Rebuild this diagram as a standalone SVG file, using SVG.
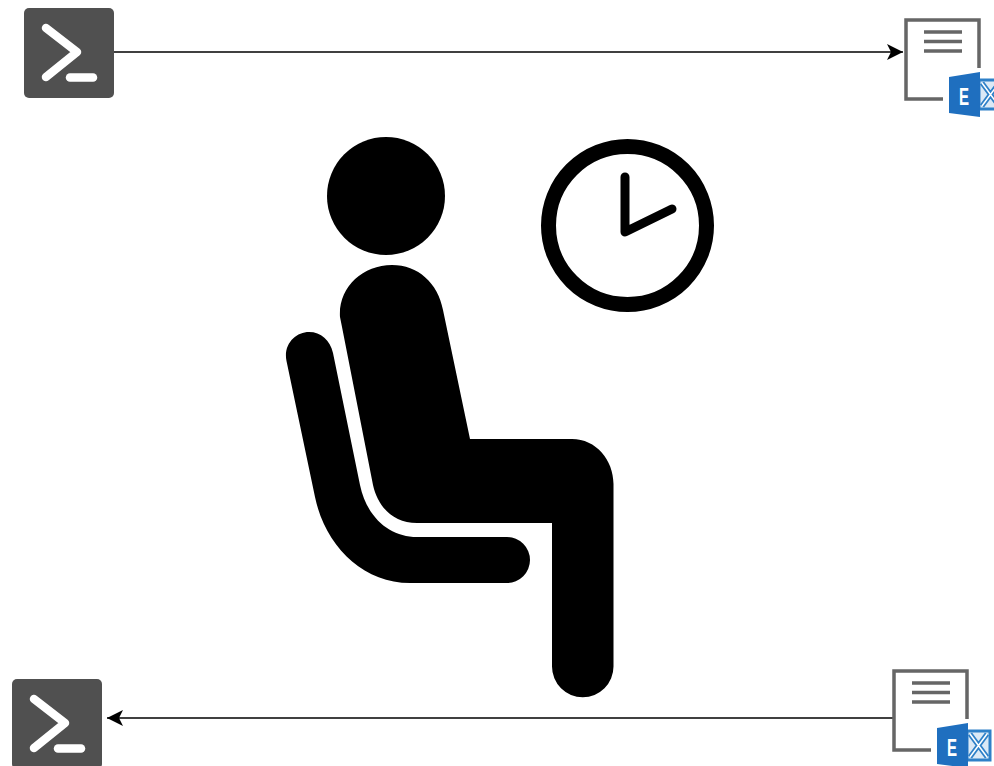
<svg xmlns="http://www.w3.org/2000/svg" width="994" height="766" viewBox="0 0 994 766">
<style>
.term{fill:#505050}
.cmd{fill:none;stroke:#fff;stroke-width:8.500;stroke-linecap:round;stroke-linejoin:round}
.doc{fill:none;stroke:#666;stroke-width:3.500}
.door{fill:#1f6fbf}
.box{fill:#dbe9f6;stroke:#2e80c8;stroke-width:3}
.x{fill:none;stroke:#2e80c8;stroke-width:5}
.xi{fill:none;stroke:#fff;stroke-width:1.500}
.e{font-family:"Liberation Sans",Arial,sans-serif;font-weight:700;font-size:23px;fill:#fff;text-anchor:middle}
.conn{fill:none;stroke:#000;stroke-width:1.300}
</style>
<defs>
<marker id="arrow" markerUnits="userSpaceOnUse" markerWidth="20" markerHeight="20" refX="17" refY="10" orient="auto">
<path d="M1 2L17 10L1 18L5 10Z" fill="#000"/>
</marker>
<g id="terminal-art">
<rect class="term" width="90" height="90" rx="5"/>
<path class="cmd" d="M22 20L53 44L22 69"/>
<path class="cmd" d="M46 69.500H69"/>
</g>
<g id="doc-art">
<path class="doc" d="M73 49V1H0V80H37"/>
<path class="doc" d="M18 13H56M18 22.500H56M18 32H56"/>
<rect class="box" x="73" y="61" width="23" height="29"/>
<path class="x" d="M76 64L93 87M93 64L76 87"/>
<path class="xi" d="M76 64L93 87M93 64L76 87"/>
<path class="door" d="M43 58L74 53V98L43 94Z"/>
<text class="e" x="58" y="86" textLength="10" lengthAdjust="spacingAndGlyphs">E</text>
</g>
</defs>
<g id="connectors">
<path class="conn" d="M114 52H903" marker-end="url(#arrow)"/>
<path class="conn" d="M893 718H107" marker-end="url(#arrow)"/>
</g>
<g id="terminal-top"><use href="#terminal-art" x="24" y="8"/></g>
<g id="mailbox-top"><use href="#doc-art" x="906" y="19"/></g>
<g id="terminal-bottom"><use href="#terminal-art" x="12" y="679"/></g>
<g id="mailbox-bottom"><use href="#doc-art" x="894" y="670"/></g>
<g id="person">
<circle cx="386" cy="196" r="59"/>
<path d="M340 317C338 288 362 265 392 265C418 265 438 283 443 310L470 439H572C596 439 613.500 460 613.500 484V666.500A30.750 30.750 0 0 1 552 666.500V523H417C393 523 378 507 373 485L342 327Z"/>
<path d="M286.500 361C283 344 296 332 309 332C321 332 330 340 333 353L360 485C367 518 390 537 417 537H507A23 23 0 0 1 507 583H410C362 583 325 545 315 497Z"/>
</g>
<g id="clock">
<circle cx="627.500" cy="225.500" r="79" fill="#fff" stroke="#000" stroke-width="15"/>
<path d="M625 177V232L672 209" fill="none" stroke="#000" stroke-width="9" stroke-linecap="round" stroke-linejoin="round"/>
</g>
</svg>
